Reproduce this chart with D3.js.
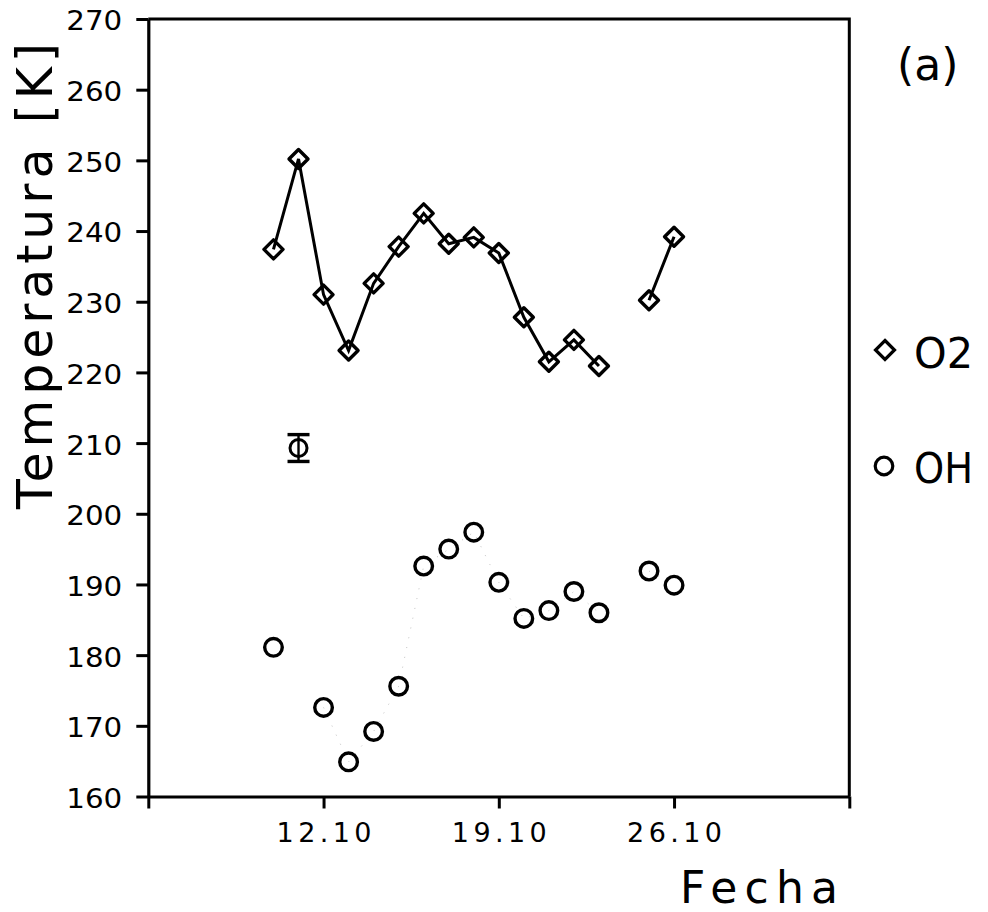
<!DOCTYPE html>
<html>
<head>
<meta charset="utf-8">
<script src="https://cdn.jsdelivr.net/npm/d3@7"></script>
<style>
  html, body { margin: 0; padding: 0; background: #fff; }
  svg { display: block; }
  text { font-family: "DejaVu Sans", sans-serif; fill: #000; }
</style>
</head>
<body>
<svg id="chart" width="988" height="912"></svg>
<script>
// Nightly rotational temperatures, October
const days = ["2000-10-10","2000-10-11","2000-10-12","2000-10-13","2000-10-14","2000-10-15",
              "2000-10-16","2000-10-17","2000-10-18","2000-10-19","2000-10-20","2000-10-21",
              "2000-10-22","2000-10-23","2000-10-24","2000-10-25","2000-10-26"];
const o2Temp = [237.4, 250.2, 231.0, 223.1, 232.6, 237.8, 242.5, 238.2, 239.1, 236.9,
                227.8, 221.5, 224.6, 220.9, null, 230.2, 239.2];
const ohTemp = [181.1, null, 172.6, 164.9, 169.2, 175.6, 192.6, 195.0, 197.4, 190.3,
                185.2, 186.3, 189.0, 186.0, null, 191.9, 189.9];
// typical uncertainty marker
const errDay = "2000-10-11";
const errValue = 209.3;
const errHalf = 1.9;

const xDomain = ["2000-10-05", "2000-11-02"];
const xTicks = ["2000-10-05", "2000-10-12", "2000-10-19", "2000-10-26", "2000-11-02"];
const xLabelled = ["2000-10-12", "2000-10-19", "2000-10-26"];
const yTicks = [160, 170, 180, 190, 200, 210, 220, 230, 240, 250, 260, 270];
const seriesNames = ["O2", "OH"];

const parse = d3.utcParse("%Y-%m-%d");
const fmt = d3.utcFormat("%d.%m");
const iso = d3.utcFormat("%Y-%m-%d");

const svg = d3.select("#chart");
const plotL = 148.3, plotR = 849.3, plotT = 19, plotB = 796.5;

const x = d3.scaleUtc().domain(xDomain.map(parse)).range([plotL, plotR]);
const y = d3.scaleLinear().domain([160, 270]).range([plotB, plotT]);

const rows = days.map((d, i) => ({ date: parse(d), o2: o2Temp[i], oh: ohTemp[i] }));

// frame: top and right edges
svg.append("path")
  .attr("d", `M${plotL},${plotT}H${plotR}V${plotB}`)
  .attr("fill", "none").attr("stroke", "#000").attr("stroke-width", 3);

// y axis
const yAxis = svg.append("g")
  .attr("transform", `translate(${plotL},0)`)
  .call(d3.axisLeft(y).tickValues(yTicks).tickSize(12).tickSizeOuter(0).tickPadding(14));
yAxis.select(".domain").attr("stroke-width", 3.2);
yAxis.selectAll(".tick line").attr("stroke-width", 3);
yAxis.selectAll(".tick text")
  .attr("font-family", "DejaVu Sans, sans-serif")
  .attr("font-size", 26).attr("fill", "#000")
  .attr("dy", "0.42em")
  .attr("textLength", 56).attr("lengthAdjust", "spacingAndGlyphs");

// x axis
const xAxis = svg.append("g")
  .attr("transform", `translate(0,${plotB})`)
  .call(d3.axisBottom(x).tickValues(xTicks.map(parse)).tickSize(12).tickSizeOuter(0).tickPadding(14)
    .tickFormat(d => xLabelled.includes(iso(d)) ? fmt(d) : ""));
xAxis.select(".domain").attr("stroke-width", 3.2);
xAxis.selectAll(".tick line").attr("stroke-width", 3);
xAxis.selectAll(".tick text")
  .attr("font-family", "DejaVu Sans, sans-serif")
  .attr("font-size", 27).attr("fill", "#000")
  .attr("dy", "0.71em")
  .each(function () { if (this.textContent) d3.select(this).attr("textLength", 95).attr("lengthAdjust", "spacing"); });

// faint dotted trace joining consecutive OH nights
svg.append("path")
  .datum(rows)
  .attr("d", d3.line().defined(d => d.oh != null).x(d => x(d.date)).y(d => y(d.oh)))
  .attr("fill", "none").attr("stroke", "#777").attr("stroke-width", 1)
  .attr("stroke-dasharray", "1,9").attr("opacity", 0.45);

// O2 line
svg.append("path")
  .datum(rows)
  .attr("d", d3.line().defined(d => d.o2 != null).x(d => x(d.date)).y(d => y(d.o2)))
  .attr("fill", "none").attr("stroke", "#000").attr("stroke-width", 3);

const diamond = (cx, cy, r) => `M${cx},${cy - r}L${cx + r},${cy}L${cx},${cy + r}L${cx - r},${cy}Z`;

svg.append("g").selectAll("path")
  .data(rows.filter(d => d.o2 != null))
  .join("path")
  .attr("d", d => diamond(x(d.date), y(d.o2), 9.5))
  .attr("fill", "none").attr("stroke", "#000").attr("stroke-width", 3.4)
  .attr("stroke-linejoin", "round");

svg.append("g").selectAll("circle")
  .data(rows.filter(d => d.oh != null))
  .join("circle")
  .attr("cx", d => x(d.date)).attr("cy", d => y(d.oh)).attr("r", 8.8)
  .attr("fill", "none").attr("stroke", "#000").attr("stroke-width", 3.4);

// error marker
const ex = x(parse(errDay));
const eg = svg.append("g").attr("stroke", "#000").attr("fill", "none");
eg.append("circle").attr("cx", ex).attr("cy", y(errValue)).attr("r", 8.5).attr("stroke-width", 3);
eg.append("line").attr("x1", ex).attr("x2", ex).attr("y1", y(errValue + errHalf)).attr("y2", y(errValue - errHalf)).attr("stroke-width", 2.4);
[errValue + errHalf, errValue - errHalf].forEach(v =>
  eg.append("line").attr("x1", ex - 11).attr("x2", ex + 11).attr("y1", y(v)).attr("y2", y(v)).attr("stroke-width", 3.4));

// axis titles
svg.append("text")
  .attr("transform", "translate(52,276) rotate(-90)")
  .attr("text-anchor", "middle")
  .attr("font-size", 49)
  .attr("textLength", 466).attr("lengthAdjust", "spacing")
  .text("Temperatura [K]");

svg.append("text")
  .attr("x", 680).attr("y", 903)
  .attr("font-size", 44)
  .attr("textLength", 158).attr("lengthAdjust", "spacing")
  .text("Fecha");

svg.append("text")
  .attr("x", 897).attr("y", 80)
  .attr("font-size", 44)
  .text("(a)");

// legend
svg.append("path").attr("d", diamond(885, 350, 9.5))
  .attr("fill", "none").attr("stroke", "#000").attr("stroke-width", 3.2);
svg.append("circle").attr("cx", 884).attr("cy", 466).attr("r", 8.8)
  .attr("fill", "none").attr("stroke", "#000").attr("stroke-width", 3.2);
svg.append("text").attr("x", 914).attr("y", 368).attr("font-size", 42)
  .attr("textLength", 59).attr("lengthAdjust", "spacingAndGlyphs").text(seriesNames[0]);
svg.append("text").attr("x", 914).attr("y", 483).attr("font-size", 42)
  .attr("textLength", 59).attr("lengthAdjust", "spacingAndGlyphs").text(seriesNames[1]);
</script>
</body>
</html>
